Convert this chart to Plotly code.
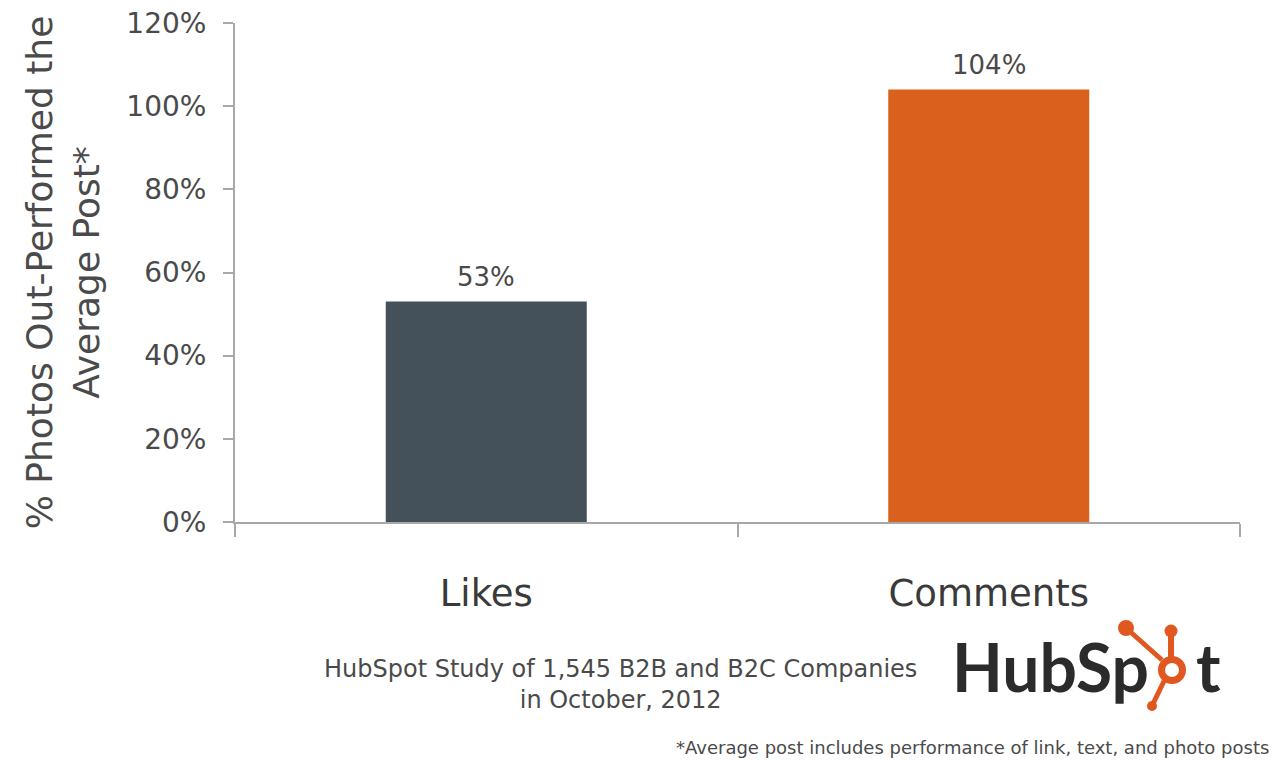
import plotly.graph_objects as go

# ---- data ----
categories = ["Likes", "Comments"]
values = [0.53, 1.04]
value_labels = ["53%", "104%"]
bar_colors = ["#44515a", "#d9601d"]
y_title = "% Photos Out-Performed the<br>Average Post*"
source_text = "HubSpot Study of 1,545 B2B and B2C Companies<br>in October, 2012"
footnote = "*Average post includes performance of link, text, and photo posts"

W, H = 1274, 760
ML, MR, MT, MB = 235, 34, 23, 238
PW, PH = W - ML - MR, H - MT - MB


def px(x):
    return (x - ML) / PW


def py(y):
    return (H - MB - y) / PH


FONT = "DejaVu Sans"
TXT = "#4a4a4a"
AXC = "#a8a8a8"
ORANGE = "#e0581f"

fig = go.Figure(
    go.Bar(
        x=categories,
        y=values,
        marker=dict(color=bar_colors, line=dict(width=0)),
        width=0.4,
        hoverinfo="skip",
    )
)

annotations = []
for c, v, t in zip(categories, values, value_labels):
    annotations.append(dict(
        x=c, y=v, xref="x", yref="y", text=t, showarrow=False,
        yanchor="bottom", yshift=8,
        font=dict(family=FONT, size=26, color=TXT),
    ))

annotations.append(dict(
    x=px(620), y=py(684), xref="paper", yref="paper", text=source_text,
    showarrow=False, xanchor="center", yanchor="middle", align="center",
    font=dict(family=FONT, size=24, color=TXT),
))
annotations.append(dict(
    x=px(1271), y=py(747), xref="paper", yref="paper", text=footnote,
    showarrow=False, xanchor="right", yanchor="middle",
    font=dict(family=FONT, size=18, color=TXT),
))
# HubSpot wordmark
annotations.append(dict(
    x=px(950), y=py(666), xref="paper", yref="paper", text="<b>HubSp</b>",
    showarrow=False, xanchor="left", yanchor="middle",
    font=dict(family="Lato", size=66, color="#2b2b2b"),
))
annotations.append(dict(
    x=px(1194), y=py(666), xref="paper", yref="paper", text="<b>t</b>",
    showarrow=False, xanchor="left", yanchor="middle",
    font=dict(family="Lato", size=66, color="#2b2b2b"),
))

shapes = []


def circle(cx, cy, r, fill=True, lw=0):
    return dict(
        type="circle", xref="paper", yref="paper",
        x0=px(cx - r), x1=px(cx + r), y0=py(cy + r), y1=py(cy - r),
        fillcolor=ORANGE if fill else "rgba(0,0,0,0)",
        line=dict(color=ORANGE, width=lw),
    )


def seg(x0, y0, x1, y1, lw):
    return dict(
        type="line", xref="paper", yref="paper",
        x0=px(x0), y0=py(y0), x1=px(x1), y1=py(y1),
        line=dict(color=ORANGE, width=lw),
    )


shapes += [
    seg(1126, 628, 1162, 660, 5),
    seg(1171, 632, 1171, 658, 6),
    seg(1164, 681, 1152, 706, 5),
    circle(1172, 670, 10.5, fill=False, lw=7),
    circle(1126, 628, 8),
    circle(1171, 631, 6.5),
    circle(1152, 706, 5),
]

fig.update_layout(
    width=W, height=H,
    margin=dict(l=ML, r=MR, t=MT, b=MB, autoexpand=False),
    paper_bgcolor="white", plot_bgcolor="white",
    showlegend=False,
    annotations=annotations,
    shapes=shapes,
    xaxis=dict(
        type="category", automargin=False,
        showline=True, linecolor=AXC, linewidth=2,
        ticks="outside", tickson="boundaries", ticklen=13,
        tickcolor=AXC, tickwidth=2,
        tickfont=dict(family=FONT, size=37, color="#3a3a3a"),
        ticklabelstandoff=38,
        showgrid=False, zeroline=False,
    ),
    yaxis=dict(
        range=[0, 1.2], dtick=0.2, tickformat=".0%", automargin=False,
        showline=True, linecolor=AXC, linewidth=2,
        ticks="outside", ticklen=10, tickcolor=AXC, tickwidth=2,
        tickfont=dict(family=FONT, size=28, color=TXT),
        ticklabelstandoff=11,
        showgrid=False, zeroline=False,
        title=dict(text=y_title, font=dict(family=FONT, size=36, color=TXT),
                   standoff=16),
    ),
)

fig.write_html(
    "out.html",
    config={"displayModeBar": False},
    post_script="document.body.style.margin='0';document.body.style.overflow='hidden';",
)
